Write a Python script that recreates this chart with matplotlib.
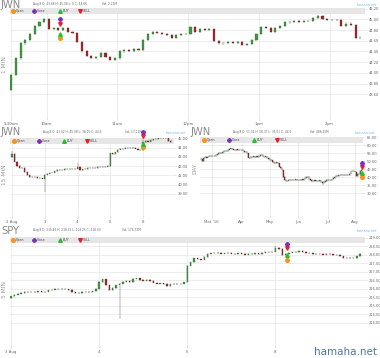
import numpy as np
import pandas as pd
import matplotlib
matplotlib.use("Agg")
import matplotlib.pyplot as plt
from matplotlib.lines import Line2D
from matplotlib.patches import Rectangle

W, H = 380, 358

# ---------------- data ----------------
# JWN intraday, 4-minute steps from 9:30
jwn1_open = 43.68
jwn1_close = [43.96, 44.27, 44.55, 44.62, 44.72, 44.88, 44.95, 45.00, 44.82, 44.83,
              44.80, 44.84, 44.76, 44.74, 44.58, 44.40, 44.31, 44.28, 44.30, 44.37,
              44.29, 44.25, 44.27, 44.40, 44.43, 44.41, 44.45, 44.43, 44.62, 44.73,
              44.76, 44.74, 44.72, 44.71, 44.65, 44.70, 44.73, 44.72, 44.86, 44.77,
              44.81, 44.80, 44.82, 44.60, 44.55, 44.56, 44.58, 44.56, 44.57, 44.53,
              44.54, 44.62, 44.72, 44.86, 44.84, 44.76, 44.84, 44.88, 44.94, 44.95,
              44.97, 44.95, 44.97, 44.96, 45.02, 45.06, 45.00, 44.99, 44.99, 44.98,
              44.87, 44.92, 44.90, 44.66, 44.66]
jwn1_ticks = [0, 7.5, 22.5, 37.5, 52.5, 67.5]
jwn1_labels = ["9:30am", "10am", "11am", "12pm", "1pm", "2pm"]
jwn1_yticks = [43.6, 43.8, 44.0, 44.2, 44.4, 44.6, 44.8, 45.0, 45.2]
jwn1_marks = {"x": 10.4, "close": 45.01, "sell": 44.92, "buy": 44.73, "open": 44.66}

# JWN 15 min (half-hour steps), Aug 2 - Aug 8
jwn15_open = 43.02
jwn15_close = [
    43.30, 42.50, 42.00, 41.80, 41.80, 41.40, 41.00, 40.85, 40.80, 40.85, 40.75, 40.70, 40.65,
    41.10, 41.20, 41.30, 41.30, 41.45, 41.60, 41.55, 41.60, 41.70, 41.65, 41.70, 41.70, 41.75,
    41.90, 41.60, 41.65, 41.70, 41.80, 41.80, 41.85, 41.80, 41.90, 41.95, 41.90, 41.95, 42.00,
    43.40, 43.30, 43.50, 43.80, 43.85, 43.90, 43.95, 44.00, 43.95, 43.95, 43.90, 43.80, 43.70,
    44.60, 44.70, 44.65, 44.85, 44.90, 44.95, 45.00, 45.05, 45.00, 45.00, 44.75, 44.60]
jwn15_ticks = [0, 13, 26, 39, 52]
jwn15_labels = ["2 Aug", "3", "4", "5", "8"]
jwn15_yticks = [39, 40, 41, 42, 43, 44, 45]
jwn15_marks = {"x": 52, "close": 45.7, "sell": 45.28, "buy": 44.39, "open": 44.03}

# JWN daily
jwn_day_open = 51.34
jwn_day_close = (
    [51.5, 49.8, 51.9, 52.4, 52.2, 52.8, 53.1, 52.9] +                      # Feb
    [53.2, 53.5, 53.3, 53.8, 54.2, 54.9, 55.3, 55.0, 55.6, 56.2, 56.5,
     56.3, 57.0, 57.8, 58.0, 57.6, 57.2, 56.9, 57.3, 57.0, 56.8, 57.1] +    # Mar
    [57.0, 56.6, 55.8, 55.6, 54.8, 52.2, 52.0, 52.6, 52.4, 52.9, 52.6,
     53.0, 52.7, 53.2, 54.0, 53.8, 52.8, 52.6, 52.9, 52.0, 51.2] +          # Apr
    [50.8, 50.4, 49.6, 49.0, 48.8, 49.2, 48.6, 46.5, 45.6, 44.2, 40.2,
     38.2, 37.6, 37.8, 38.0, 38.3, 38.2, 38.4, 38.3, 38.5, 38.3] +          # May
    [38.4, 38.2, 38.5, 38.3, 38.6, 39.6, 40.2, 40.0, 38.9, 38.0, 37.6,
     37.4, 37.9, 37.6, 37.8, 37.7, 37.9, 36.8, 36.4, 37.0, 37.6, 38.0] +    # Jun
    [38.2, 38.4, 38.1, 38.6, 39.4, 40.2, 40.8, 40.6, 41.0, 41.3, 41.4,
     41.2, 41.5, 41.3, 41.6, 41.4, 42.2, 43.6, 44.0, 43.5] +                # Jul
    [43.4, 40.7, 41.75, 42.0, 43.7, 44.6])                                 # Aug
day_dates = pd.bdate_range("2016-02-18", "2016-08-08")
day_dates = day_dates.drop(pd.to_datetime(["2016-03-25", "2016-05-30", "2016-07-04"]))
day_month_labels = ["Mar '16", "Apr", "May", "Jun", "Jul", "Aug"]
day_yticks = [30, 35, 40, 45, 50, 55, 60, 65]
day_marks = {"x": 119, "close": 49.1, "sell": 46.6, "buy": 42.5, "open": 40.0}

# SPY intraday (15-minute steps), Aug 3 - Aug 8
spy_open = 215.46
spy_close = [
    215.55, 215.65, 215.70, 215.75, 215.80, 215.78, 215.82, 215.80, 215.85, 215.80, 215.82, 215.90, 215.95,
    215.98, 215.96, 216.00, 215.97, 215.93, 215.80, 215.75, 215.72, 215.80, 215.82, 215.78, 215.85, 216.00,
    216.40, 216.55, 216.20, 215.92, 216.05, 216.20, 216.30, 216.42, 216.45, 216.40, 216.58, 216.60, 216.50,
    216.48, 216.52, 216.45, 216.35, 216.30, 216.32, 216.28, 216.15, 216.25, 216.28, 216.25, 216.30, 216.38,
    217.35, 217.55, 217.78, 217.72, 217.70, 217.85, 218.05, 218.08, 218.12, 218.10, 218.05, 218.08, 218.10,
    218.06, 218.02, 218.08, 218.05, 218.00, 218.06, 218.03, 218.08, 218.04, 218.12, 218.18, 218.15, 218.18,
    218.40, 218.32, 217.98, 218.05, 218.12, 218.18, 218.15, 218.20, 218.16, 218.10, 218.08, 218.02, 218.06,
    218.04, 218.00, 218.05, 218.02, 217.98, 218.00, 217.90, 217.80, 217.78, 217.82, 217.80, 217.90, 218.03]
spy_ticks = [0, 26, 52, 78]
spy_labels = ["3 Aug", "4", "5", "8"]
spy_yticks = [214.0, 214.5, 215.0, 215.5, 216.0, 216.5, 217.0, 217.5, 218.0, 218.5, 219.0]
spy_marks = {"x": 81.5, "close": 218.64, "sell": 218.40, "buy": 218.0, "open": 217.7}

UP = "#3f9a3f"
DOWN = "#a52a2a"
GRID = "#e6e6e6"
MARK = {"open": ("o", "#f7931e"), "close": ("P", "#7b2fbf"),
        "buy": ("^", "#2ebd2e"), "sell": ("v", "#e8202a")}

fig = plt.figure(figsize=(3.8, 3.58), dpi=100)
fig.patch.set_facecolor("white")


def px_ax(x0, y0, x1, y1):
    return fig.add_axes([x0 / W, 1 - y1 / H, (x1 - x0) / W, (y1 - y0) / H])


def ftext(x, y, s, **kw):
    fig.text(x / W, 1 - y / H, s, **kw)


def fmark(x, y, key):
    m, c = MARK[key]
    fig.add_artist(Line2D([x / W], [1 - y / H], marker=m, color=c, mec=c, ms=2.6,
                          lw=0, transform=fig.transFigure))


def candles(ax, first_open, closes, pad, width, hi_fix={}, lo_fix={}):
    c = np.array(closes, float)
    o = np.r_[first_open, c[:-1]]
    h = np.maximum(o, c) + pad
    l = np.minimum(o, c) - pad
    for k, v in hi_fix.items():
        h[k] = v
    for k, v in lo_fix.items():
        l[k] = v
    x = np.arange(len(c))
    ax.vlines(x, l, h, color="#555555", lw=0.3, zorder=3)
    up = c >= o
    ax.bar(x[up], (c - o)[up], bottom=o[up], width=width, color=UP,
           edgecolor="#2c602c", lw=0.2, zorder=4)
    ax.bar(x[~up], (o - c)[~up], bottom=c[~up], width=width, color=DOWN,
           edgecolor="#5a1515", lw=0.2, zorder=4)


def style(ax, box, ylim, yticks, xlim, xticks, xlabels):
    x0, y0, x1, y1 = box
    ax.set_xlim(*xlim)
    ax.set_ylim(*ylim)
    for s in ax.spines.values():
        s.set_visible(False)
    ax.yaxis.tick_right()
    ax.set_yticks(yticks)
    ax.set_yticklabels(["%.2f" % v for v in yticks])
    ax.set_xticks(xticks)
    ax.set_xticklabels(xlabels)
    ax.tick_params(axis="y", length=1.5, width=0.4, color="#cccccc", labelsize=2.6,
                   labelcolor="#666666", pad=1)
    ax.tick_params(axis="x", length=2, width=0.4, color="#cccccc", labelsize=2.8,
                   labelcolor="#666666", pad=1.5)
    ax.grid(True, color=GRID, lw=0.5)
    ax.set_axisbelow(True)
    band = 6 / (y1 - y0)
    ax.add_patch(Rectangle((0, 1 - band), 1, band, transform=ax.transAxes,
                           color="#e6e6e6", zorder=1, lw=0))


def header(box, title, info, vol, info_x, vol_x, title_x, title_y, info_y, offs):
    x0, y0, x1, y1 = box
    ftext(title_x, title_y, title, fontsize=7.2, color="#8a8a8a", va="center")
    ftext(info_x, info_y, info, fontsize=2.1, color="#666666", va="center")
    ftext(vol_x, info_y, vol, fontsize=2.1, color="#666666", va="center")
    ftext(x1 + 12, info_y + 1, "hamaha.net", fontsize=2.4, color="#7cb5ec",
          va="center", ha="right")
    ly = y0 + 3
    for key, name, dx in zip(["open", "close", "buy", "sell"],
                             ["Open", "Close", "BUY", "SELL"], offs):
        fmark(x0 + dx, ly, key)
        ftext(x0 + dx + 3, ly, name, fontsize=2.3, color="#444444", va="center")


def signals(ax, mk):
    for key in ["open", "buy", "sell", "close"]:
        m, c = MARK[key]
        ax.plot([mk["x"]], [mk[key]], marker=m, color=c, mec=c, ms=2.6, lw=0,
                clip_on=False, zorder=6)


# ---------------- panel 1: JWN 1 MIN ----------------
b1 = (10, 8, 365, 117)
ax1 = px_ax(*b1)
candles(ax1, jwn1_open, jwn1_close, 0.02, 0.45, hi_fix={65: 45.08})
style(ax1, b1, (43.18, 45.21), jwn1_yticks, (-0.25, 75.0), jwn1_ticks, jwn1_labels)
signals(ax1, jwn1_marks)
header(b1, "JWN", "Aug 8 O: 43.68 H: 45.08 L: 0 C: 44.66", "Vol: 2.21M",
       33, 102, 0, 5, 4, (3, 24, 50, 70))
ftext(5, 65, "1 MIN", fontsize=4.2, color="#999999", rotation=90, ha="center", va="center")

# ---------------- panel 2: JWN 15 MIN ----------------
b2 = (10, 138, 174, 215)
ax2 = px_ax(*b2)
candles(ax2, jwn15_open, jwn15_close, 0.08, 0.45,
        hi_fix={0: 43.6, 26: 42.4, 52: 45.0}, lo_fix={13: 39.2})
style(ax2, b2, (36.73, 45.05), jwn15_yticks, (-0.8, 64.3), jwn15_ticks, jwn15_labels)
signals(ax2, jwn15_marks)
header(b2, "JWN", "Aug 8 O: 43.02 H: 45.08 L: 38.05 C: 44.6", "Vol: 17.21M",
       43, 125, 0, 132, 132, (4, 29, 54, 77))
ftext(5, 175, "15 MIN", fontsize=4.2, color="#999999", rotation=90, ha="center", va="center")

# ---------------- panel 3: JWN DAY ----------------
b3 = (200, 137, 363, 215)
ax3 = px_ax(*b3)
candles(ax3, jwn_day_open, jwn_day_close, 0.5, 0.5,
        hi_fix={22: 58.37}, lo_fix={90: 35.01})
month_pos = [int(np.argmax(day_dates.month == m)) for m in [3, 4, 5, 6, 7, 8]]
style(ax3, b3, (16.25, 65.1), day_yticks, (-0.75, 120.0), month_pos, day_month_labels)
signals(ax3, day_marks)
header(b3, "JWN", "Aug 8 O: 51.34 H: 58.37 L: 35.01 C: 44.6", "Vol: 486.25M",
       233, 310, 190, 132, 132, (4, 29, 54, 77))
ftext(195, 168, "DAY", fontsize=4.2, color="#999999", rotation=90, ha="center", va="center")

# ---------------- panel 4: SPY 5 MIN ----------------
b4 = (10, 237, 365, 345)
ax4 = px_ax(*b4)
candles(ax4, spy_open, spy_close, 0.04, 0.45, hi_fix={78: 218.52}, lo_fix={32: 214.25})
style(ax4, b4, (212.7, 219.03), spy_yticks, (-0.3, 104.4), spy_ticks, spy_labels)
signals(ax4, spy_marks)
header(b4, "SPY", "Aug 8 O: 215.46 H: 218.52 L: 214.25 C: 218.03", "Vol: 176.72M",
       33, 122, 1, 231, 230, (3, 24, 50, 70))
ftext(5, 290, "5 MIN", fontsize=4.2, color="#999999", rotation=90, ha="center", va="center")

ftext(377, 352, "hamaha.net", fontsize=7.5, color="#4f74ad", ha="right", va="center")

fig.savefig("out.png", dpi=100, facecolor="white")
